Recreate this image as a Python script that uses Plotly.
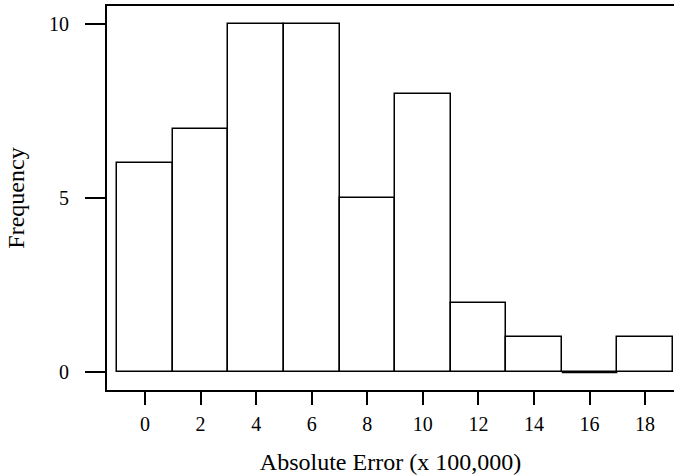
import plotly.graph_objects as go

bin_centers = [0, 2, 4, 6, 8, 10, 12, 14, 16, 18]
frequencies = [6, 7, 10, 10, 5, 8, 2, 1, 0, 1]
bin_width = 2
x_ticks = [0, 2, 4, 6, 8, 10, 12, 14, 16, 18]
y_ticks = [0, 5, 10]

FONT = "Times New Roman, Liberation Serif, serif"

fig = go.Figure()
fig.add_trace(go.Bar(
    x=bin_centers, y=frequencies, width=[bin_width] * len(bin_centers),
    marker=dict(color="white", line=dict(color="black", width=1.5)),
    showlegend=False, hoverinfo="x+y",
))
# empty bins are drawn as a flat line at zero
ex, ey = [], []
for c, f in zip(bin_centers, frequencies):
    if f == 0:
        ex += [c - bin_width / 2, c + bin_width / 2, None]
        ey += [0, 0, None]
fig.add_trace(go.Scatter(
    x=ex, y=ey, mode="lines",
    line=dict(color="black", width=2.2), showlegend=False, hoverinfo="skip",
))

fig.update_layout(
    width=674, height=475,
    margin=dict(l=107, r=0, t=6, b=85, autoexpand=False),
    paper_bgcolor="white", plot_bgcolor="white",
    font=dict(family=FONT, size=20, color="black"),
    bargap=0,
)
fig.update_xaxes(
    range=[-1.37, 19.04], tickvals=x_ticks, ticktext=[str(v) for v in x_ticks],
    showgrid=False, zeroline=False,
    showline=True, mirror=True, linecolor="black", linewidth=2,
    ticks="outside", ticklen=13, tickwidth=2, tickcolor="black",
    ticklabelstandoff=2,
    title=dict(text="Absolute Error (x 100,000)", standoff=22),
)
fig.update_yaxes(
    range=[-0.51, 10.52], tickvals=y_ticks, ticktext=[str(v) for v in y_ticks],
    showgrid=False, zeroline=False,
    showline=True, mirror=False, linecolor="black", linewidth=2,
    ticks="outside", ticklen=20, tickwidth=2, tickcolor="black",
    ticklabelstandoff=12,
    title=dict(text="Frequency", standoff=18),
)
fig.write_html("out.html")
